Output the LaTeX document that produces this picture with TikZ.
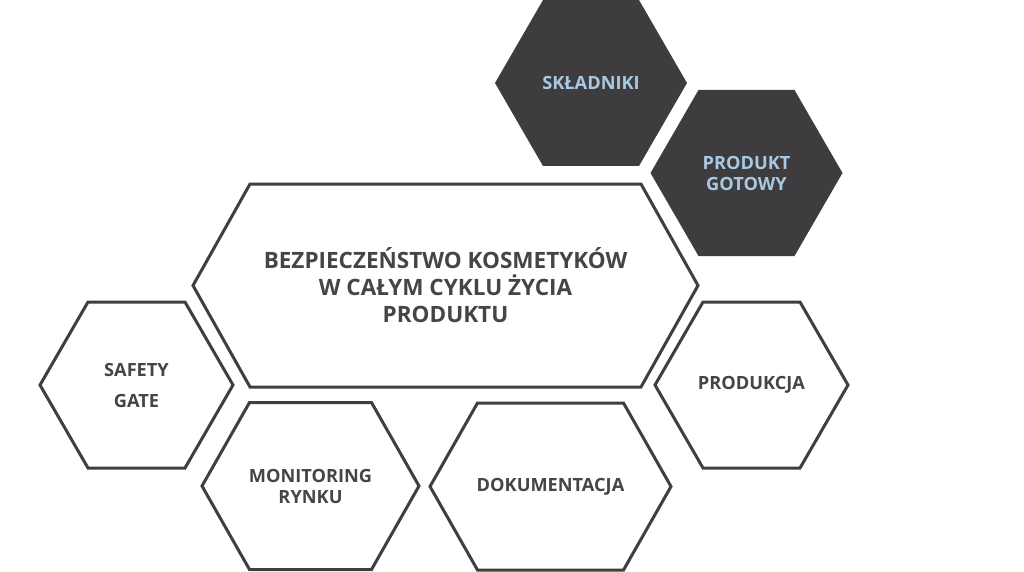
\documentclass[tikz,border=0pt]{standalone}
\usepackage{fontspec}
\setmainfont{Open Sans}
\definecolor{hexline}{HTML}{3F3E40}
\definecolor{hexdark}{HTML}{3E3C3F}
\definecolor{hexblue}{HTML}{A9C9E2}
\definecolor{hextext}{HTML}{454446}
\newcommand{\hexpath}[5]{(#1-#3,#2) -- (#1-#3+#4,#2-#5) -- (#1+#3-#4,#2-#5) -- (#1+#3,#2) -- (#1+#3-#4,#2+#5) -- (#1-#3+#4,#2+#5) -- cycle}
\begin{document}
\begin{tikzpicture}[x=1pt,y=-1pt,
  hexopen/.style={draw=hexline,line width=3pt,line join=miter,fill=white},
  hexfill/.style={fill=hexdark},
  bigtext/.style={font=\bfseries\fontsize{22.5}{27}\selectfont,text=hextext,align=center},
  smalltext/.style={font=\bfseries\fontsize{18.2}{21}\selectfont,text=hextext,align=center},
  bluetext/.style={font=\bfseries\fontsize{18.2}{21}\selectfont,text=hexblue,align=center}]
\fill[white] (0,0) rectangle (1024,572);
\useasboundingbox (0,0) rectangle (1024,572);
% dark hexagons
\path[hexfill] \hexpath{591}{83}{96}{48}{83};
\node[bluetext] (skl) at (591,83) {SKŁADNIKI};
\path[hexfill] \hexpath{746.5}{173}{96}{48}{83};
\node[bluetext] (got) at (746.5,173) {PRODUKT\\GOTOWY};
% central hexagon
\path[hexopen] \hexpath{445.5}{285.5}{252.5}{57}{101.5};
\node[bigtext] (main) at (445.5,285.5) {BEZPIECZEŃSTWO KOSMETYKÓW\\W CAŁYM CYKLU ŻYCIA\\PRODUKTU};
% outlined small hexagons
\path[hexopen] \hexpath{136.5}{385}{96.5}{48}{83};
\node[smalltext,font=\bfseries\fontsize{18.2}{31}\selectfont] (safe) at (136.5,385) {SAFETY\\GATE};
\path[hexopen] \hexpath{310.5}{486}{108.5}{47.5}{83.5};
\node[smalltext] (mon) at (310.5,486) {MONITORING\\RYNKU};
\path[hexopen] \hexpath{550.5}{486.5}{120.5}{47.5}{83.5};
\node[smalltext] (dok) at (550.5,486.5) {DOKUMENTACJA};
\path[hexopen] \hexpath{751.5}{385}{96.5}{48}{83};
\node[smalltext] (prod) at (751.5,385) {PRODUKCJA};
\end{tikzpicture}
\end{document}
